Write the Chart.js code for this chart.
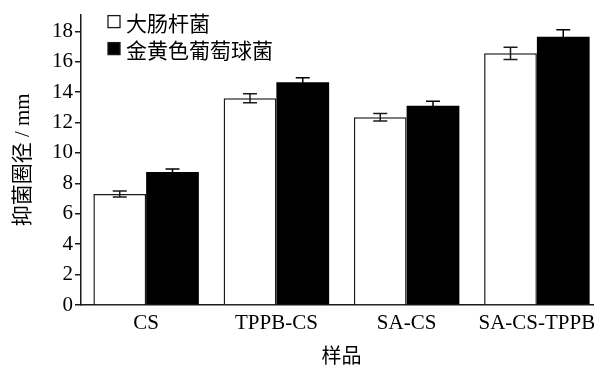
<!DOCTYPE html>
<html>
<head>
<meta charset="utf-8">
<script src="https://cdn.jsdelivr.net/npm/chart.js@4/dist/chart.umd.min.js"></script>
<style>
  html, body { margin: 0; padding: 0; background: #fff; overflow: hidden; }
  #wrap { width: 594px; height: 369px; overflow: hidden; }
  #box { width: 612px; height: 369px; }
</style>
</head>
<body>
<div id="wrap"><div id="box"><canvas id="c"></canvas></div></div>
<script>
// Inhibition zone diameters (mm) per sample, two bacterial strains
const samples = ['CS', 'TPPB-CS', 'SA-CS', 'SA-CS-TPPB'];
const seriesNames = ['大肠杆菌', '金黄色葡萄球菌'];
const ecoliMean = [7.3, 13.6, 12.35, 16.55];
const ecoliErr = [0.2, 0.3, 0.25, 0.4];
const saureusMean = [8.75, 14.65, 13.1, 17.65];
const saureusErr = [0.2, 0.3, 0.3, 0.45];
const yTicks = [0, 2, 4, 6, 8, 10, 12, 14, 16, 18];

const SERIF = '"Liberation Serif", "Times New Roman", "Noto Sans CJK SC", serif';
const LINE = '#1a1a1a';

// Mean ± SD whiskers, placed with the chart's own scales
const errorBars = {
  id: 'errorBars',
  afterDatasetsDraw(chart) {
    const { ctx } = chart;
    const y = chart.scales.y;
    ctx.save();
    ctx.lineWidth = 1.5;
    chart.data.datasets.forEach((ds, i) => {
      const meta = chart.getDatasetMeta(i);
      ctx.strokeStyle = i === 0 ? LINE : '#000';
      meta.data.forEach((bar, j) => {
        const v = ds.data[j], e = ds.errors[j];
        const hi = y.getPixelForValue(v + e);
        const lo = y.getPixelForValue(v - e);
        const x = bar.x, cap = 7;
        ctx.beginPath();
        ctx.moveTo(x, hi); ctx.lineTo(x, lo);
        ctx.moveTo(x - cap, hi); ctx.lineTo(x + cap, hi);
        ctx.moveTo(x - cap, lo); ctx.lineTo(x + cap, lo);
        ctx.stroke();
      });
    });
    ctx.restore();
  }
};

// Legend in the upper-left corner of the plot
const cornerLegend = {
  id: 'cornerLegend',
  afterDraw(chart) {
    const { ctx, chartArea } = chart;
    const x0 = chartArea.left + 27, y0 = chartArea.top + 7, step = 27, s = 12;
    ctx.save();
    ctx.font = '21px "Noto Sans CJK SC", sans-serif';
    ctx.textBaseline = 'middle';
    chart.data.datasets.forEach((ds, i) => {
      const cy = y0 + i * step;
      ctx.fillStyle = ds.backgroundColor;
      ctx.fillRect(x0, cy - s / 2, s, s);
      ctx.strokeStyle = LINE;
      ctx.lineWidth = 1.3;
      ctx.strokeRect(x0, cy - s / 2, s, s);
      ctx.fillStyle = '#000';
      ctx.fillText(ds.label, x0 + s + 6, cy + 1);
    });
    ctx.restore();
  }
};

new Chart(document.getElementById('c'), {
  type: 'bar',
  data: {
    labels: samples,
    datasets: [
      { label: seriesNames[0], data: ecoliMean, errors: ecoliErr,
        backgroundColor: '#ffffff', borderColor: LINE, borderWidth: 1.5 },
      { label: seriesNames[1], data: saureusMean, errors: saureusErr,
        backgroundColor: '#000000', borderColor: '#000000', borderWidth: 0 }
    ]
  },
  options: {
    responsive: true,
    maintainAspectRatio: false,
    animation: false,
    devicePixelRatio: 1,
    layout: { padding: { top: 14, right: 10, left: 0, bottom: 0 } },
    datasets: { bar: { categoryPercentage: 0.81, barPercentage: 1 } },
    plugins: { legend: { display: false }, tooltip: { enabled: false } },
    scales: {
      x: {
        grid: { display: false },
        border: { color: LINE, width: 1.5 },
        ticks: { color: '#000', font: { family: SERIF, size: 21 }, padding: -2, maxRotation: 0 },
        title: { display: true, text: '样品', color: '#000',
                 font: { family: '"Noto Sans CJK SC", sans-serif', size: 20 },
                 padding: { top: 4, bottom: 2 } },
        afterFit(s) { s.height = 64; }
      },
      y: {
        min: 0, max: 19.1,
        grid: { drawOnChartArea: false, tickLength: 6, color: LINE, lineWidth: 1.5 },
        border: { color: LINE, width: 1.5 },
        ticks: { stepSize: 2, color: '#000', font: { family: SERIF, size: 21 }, padding: 2 },
        afterBuildTicks(s) { s.ticks = yTicks.map(v => ({ value: v })); },
        title: { display: true, text: '抑菌圈径 / mm', color: '#000',
                 font: { family: '"Liberation Serif", "Noto Sans CJK SC", serif', size: 21 },
                 padding: { top: 11, bottom: 0 } },
        afterFit(s) { s.width = 81; }
      }
    }
  },
  plugins: [errorBars, cornerLegend]
});
</script>
</body>
</html>
